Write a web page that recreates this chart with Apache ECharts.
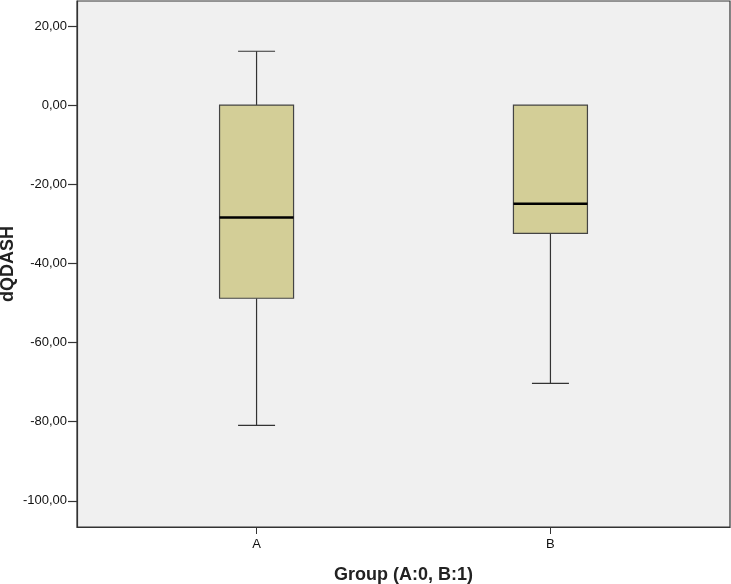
<!DOCTYPE html>
<html>
<head>
<meta charset="utf-8">
<script src="https://cdn.jsdelivr.net/npm/echarts@6/dist/echarts.min.js"></script>
<style>html,body{margin:0;padding:0;background:#fff;}#c{width:731px;height:584px;}</style>
</head>
<body>
<div id="c"></div>
<script>
// Data
const categories = ['A', 'B'];
const positions = [0, 1];
// [min (lower whisker), Q1, median, Q3, max (upper whisker)]
const boxA = [-80.9, -48.8, -28.4, 0, 13.6];
const boxB = [-70.3, -32.4, -24.9, 0, 0];
const yTicks = [-100, -80, -60, -40, -20, 0, 20];

const boxes = [boxA, boxB];
const seriesData = positions.map((p, i) => [p].concat(boxes[i]));

const FONT = "'Liberation Sans', Arial, Helvetica, sans-serif";
const chart = echarts.init(document.getElementById('c'), null, {renderer: 'canvas'});

function renderItem(params, api) {
  const x = api.value(0);
  const mn = api.coord([x, api.value(1)]);
  const q1 = api.coord([x, api.value(2)]);
  const md = api.coord([x, api.value(3)]);
  const q3 = api.coord([x, api.value(4)]);
  const mx = api.coord([x, api.value(5)]);
  const cx = mn[0];
  const hw = 37, cw = 18.5;
  const lineStyle = {stroke: '#333', lineWidth: 1.2, fill: null};
  const children = [];
  if (mx[1] < q3[1] - 0.5) {
    children.push({type: 'line', shape: {x1: cx, y1: q3[1], x2: cx, y2: mx[1]}, style: lineStyle});
    children.push({type: 'line', shape: {x1: cx - cw, y1: mx[1], x2: cx + cw, y2: mx[1]}, style: lineStyle});
  }
  if (mn[1] > q1[1] + 0.5) {
    children.push({type: 'line', shape: {x1: cx, y1: q1[1], x2: cx, y2: mn[1]}, style: lineStyle});
    children.push({type: 'line', shape: {x1: cx - cw, y1: mn[1], x2: cx + cw, y2: mn[1]}, style: lineStyle});
  }
  children.push({type: 'rect', shape: {x: cx - hw, y: q3[1], width: 2 * hw, height: q1[1] - q3[1]},
    style: {fill: '#d3ce97', stroke: '#444', lineWidth: 1.2}});
  children.push({type: 'line', shape: {x1: cx - hw, y1: md[1], x2: cx + hw, y2: md[1]},
    style: {stroke: '#000', lineWidth: 2.5}});
  return {type: 'group', children: children};
}

chart.setOption({
  animation: false,
  backgroundColor: '#fff',
  grid: {left: 77, top: 1, right: 1, bottom: 57, show: true, backgroundColor: '#f0f0f0',
    borderColor: '#333', borderWidth: 1.2, containLabel: false, outerBoundsMode: 'none'},
  xAxis: {
    type: 'value', min: -0.611, max: 1.611,
    splitLine: {show: false},
    axisLine: {show: true, onZero: false, lineStyle: {color: '#333', width: 1.2}},
    axisTick: {show: true, length: 7, customValues: positions, lineStyle: {color: '#333'}},
    axisLabel: {customValues: positions, formatter: v => categories[Math.round(v)] || '',
      color: '#111', fontFamily: FONT, fontSize: 13, margin: 11},
    name: 'Group (A:0, B:1)', nameLocation: 'middle', nameGap: 39, nameMoveOverlap: false,
    nameTextStyle: {fontFamily: FONT, fontSize: 18, fontWeight: 'bold', color: '#222'}
  },
  yAxis: {
    type: 'value', min: -106.6, max: 26.3,
    splitLine: {show: false},
    axisLine: {show: true, onZero: false, lineStyle: {color: '#333', width: 1.2}},
    axisTick: {show: true, length: 9, customValues: yTicks, lineStyle: {color: '#333', width: 1.2}},
    axisLabel: {customValues: yTicks, formatter: v => v.toFixed(2).replace('.', ','),
      color: '#111', fontFamily: FONT, fontSize: 13, margin: 10},
    name: 'dQDASH', nameLocation: 'middle', nameGap: 60, nameMoveOverlap: false,
    nameTextStyle: {fontFamily: FONT, fontSize: 18, fontWeight: 'bold', color: '#222'}
  },
  series: [{
    type: 'custom',
    renderItem: renderItem,
    encode: {x: 0, y: [1, 2, 3, 4, 5]},
    data: seriesData
  }]
});
</script>
</body>
</html>
